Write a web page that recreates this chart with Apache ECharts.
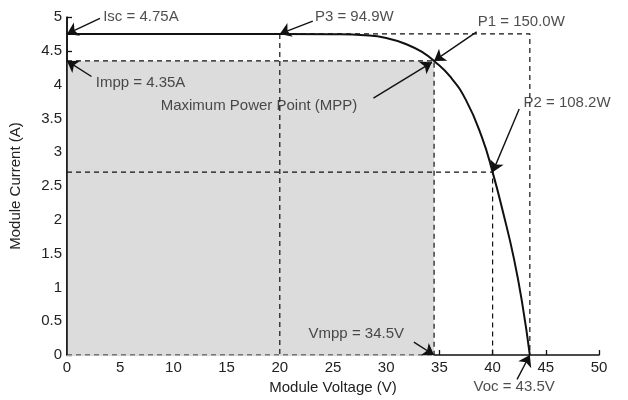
<!DOCTYPE html>
<html>
<head>
<meta charset="utf-8">
<script src="https://cdn.jsdelivr.net/npm/echarts@6/dist/echarts.min.js"></script>
<style>html,body{margin:0;padding:0;background:#fff}#c{width:628px;height:400px}</style>
</head>
<body>
<div id="c"></div>
<script>
// I-V curve of the module
const voltage = [0, 10, 20, 25, 28, 30, 32, 33.5, 34.5, 36, 37.5, 39, 40, 41, 42, 42.8, 43.5];
const current = [4.75, 4.75, 4.75, 4.745, 4.73, 4.69, 4.59, 4.47, 4.35, 4.12, 3.77, 3.22, 2.705, 2.10, 1.43, 0.75, 0];

// key points
const Isc = 4.75, Voc = 43.5, Vmpp = 34.5, Impp = 4.35;
const P2pt = [40, 2.705];
const P3pt = [20, 4.75];

// axis ticks
const xTickLabels = ['0','5','10','15','20','25','30','35','40','45','50'];
const yTickLabels = ['0','0.5','1','1.5','2','2.5','3','3.5','4','4.5','5'];

// annotations
const annoText = ['Isc = 4.75A', 'P3 = 94.9W', 'P1 = 150.0W', 'Impp = 4.35A', 'Maximum Power Point (MPP)', 'P2 = 108.2W', 'Vmpp = 34.5V', 'Voc = 43.5V'];
const annoTextPos = [[3.4, 5.0], [23.3, 5.0], [38.6, 4.93], [2.7, 4.03], [8.8, 3.69], [42.9, 3.73], [22.7, 0.32], [38.2, -0.475]];
const arrowTail = [[3.1, 4.98], [23.1, 4.94], [38.5, 4.78], [2.3, 4.12], [28.8, 3.80], [42.5, 3.64], [32.6, 0.19], [42.3, -0.36]];
const arrowTip = [[0, 4.75], [20, 4.75], [34.5, 4.35], [0, 4.35], [34.3, 4.33], [40, 2.705], [34.5, 0], [43.5, 0]];

const FONT = 'Liberation Sans';
const FS = 15;
const INK = '#111';

const dashLines = [
  [[0, Isc], [Voc, Isc], [Voc, 0]],
  [[P3pt[0], P3pt[1]], [P3pt[0], 0]],
  [[0, Impp], [Vmpp, Impp], [Vmpp, 0]],
  [[0, P2pt[1]], [P2pt[0], P2pt[1]], [P2pt[0], 0]],
  [[0, 0], [Vmpp, 0]]
];

const series = [];
// shaded MPP rectangle
series.push({
  type: 'line', data: [], z: 2, silent: true,
  markArea: {
    silent: true,
    itemStyle: { color: '#dcdcdc' },
    data: [[{ coord: [0, 0] }, { coord: [Vmpp, Impp] }]]
  }
});
// cover of axis under the patch bottom edge
series.push({
  type: 'line', data: [[0, 0], [Vmpp, 0]], z: 3, silent: true, showSymbol: false,
  lineStyle: { color: '#dcdcdc', width: 2.5 }
});
dashLines.forEach(function (d) {
  series.push({
    type: 'line', data: d, z: 4, silent: true, showSymbol: false,
    lineStyle: { color: INK, width: 1.2, type: [5, 4] }
  });
});
// left axis edge kept solid
series.push({
  type: 'line', data: [[0, 0], [0, 5]], z: 5, silent: true, showSymbol: false,
  lineStyle: { color: INK, width: 1.5 }
});
// IV curve
series.push({
  type: 'line', z: 6, silent: true, showSymbol: false,
  smooth: 0.5,
  data: voltage.map(function (v, i) { return [v, current[i]]; }),
  lineStyle: { color: INK, width: 2 }
});
// arrows
series.push({
  type: 'lines', coordinateSystem: 'cartesian2d', z: 7, silent: true, clip: false,
  symbol: ['none', 'arrow'], symbolSize: 11,
  lineStyle: { color: INK, width: 1.4, opacity: 1 },
  data: arrowTail.map(function (t, i) { return { coords: [t, arrowTip[i]] }; })
});
// texts
series.push({
  type: 'scatter', z: 8, silent: true, clip: false, symbolSize: 0,
  data: annoTextPos.map(function (p, i) {
    return { value: p, label: { formatter: annoText[i] } };
  }),
  label: {
    show: true, position: 'right', distance: 0,
    color: '#222', fontFamily: FONT, fontSize: FS
  }
});

const chart = echarts.init(document.getElementById('c'), null, { renderer: 'canvas' });
chart.setOption({
  animation: false,
  backgroundColor: '#fff',
  grid: { left: 67, right: 29, top: 17, bottom: 40, containLabel: false },
  xAxis: {
    type: 'value', min: 0, max: 50, interval: 5,
    name: 'Module Voltage (V)', nameLocation: 'middle', nameGap: 25,
    nameTextStyle: { color: '#222', fontFamily: FONT, fontSize: FS },
    axisLine: { show: true, lineStyle: { color: INK, width: 1.5 } },
    axisTick: { show: true, inside: true, length: 5, lineStyle: { color: INK, width: 1.3 } },
    axisLabel: { color: '#222', fontFamily: FONT, fontSize: FS, margin: 5,
      formatter: function (v, i) { return xTickLabels[i]; } },
    splitLine: { show: false }
  },
  yAxis: {
    type: 'value', min: 0, max: 5, interval: 0.5,
    name: 'Module Current (A)', nameLocation: 'middle', nameGap: 44,
    nameTextStyle: { color: '#222', fontFamily: FONT, fontSize: FS },
    axisLine: { show: true, lineStyle: { color: INK, width: 1.5 } },
    axisTick: { show: true, inside: true, length: 5, lineStyle: { color: INK, width: 1.3 } },
    axisLabel: { color: '#222', fontFamily: FONT, fontSize: FS, margin: 5,
      formatter: function (v, i) { return yTickLabels[i]; } },
    splitLine: { show: false }
  },
  series: series
});
</script>
</body>
</html>
